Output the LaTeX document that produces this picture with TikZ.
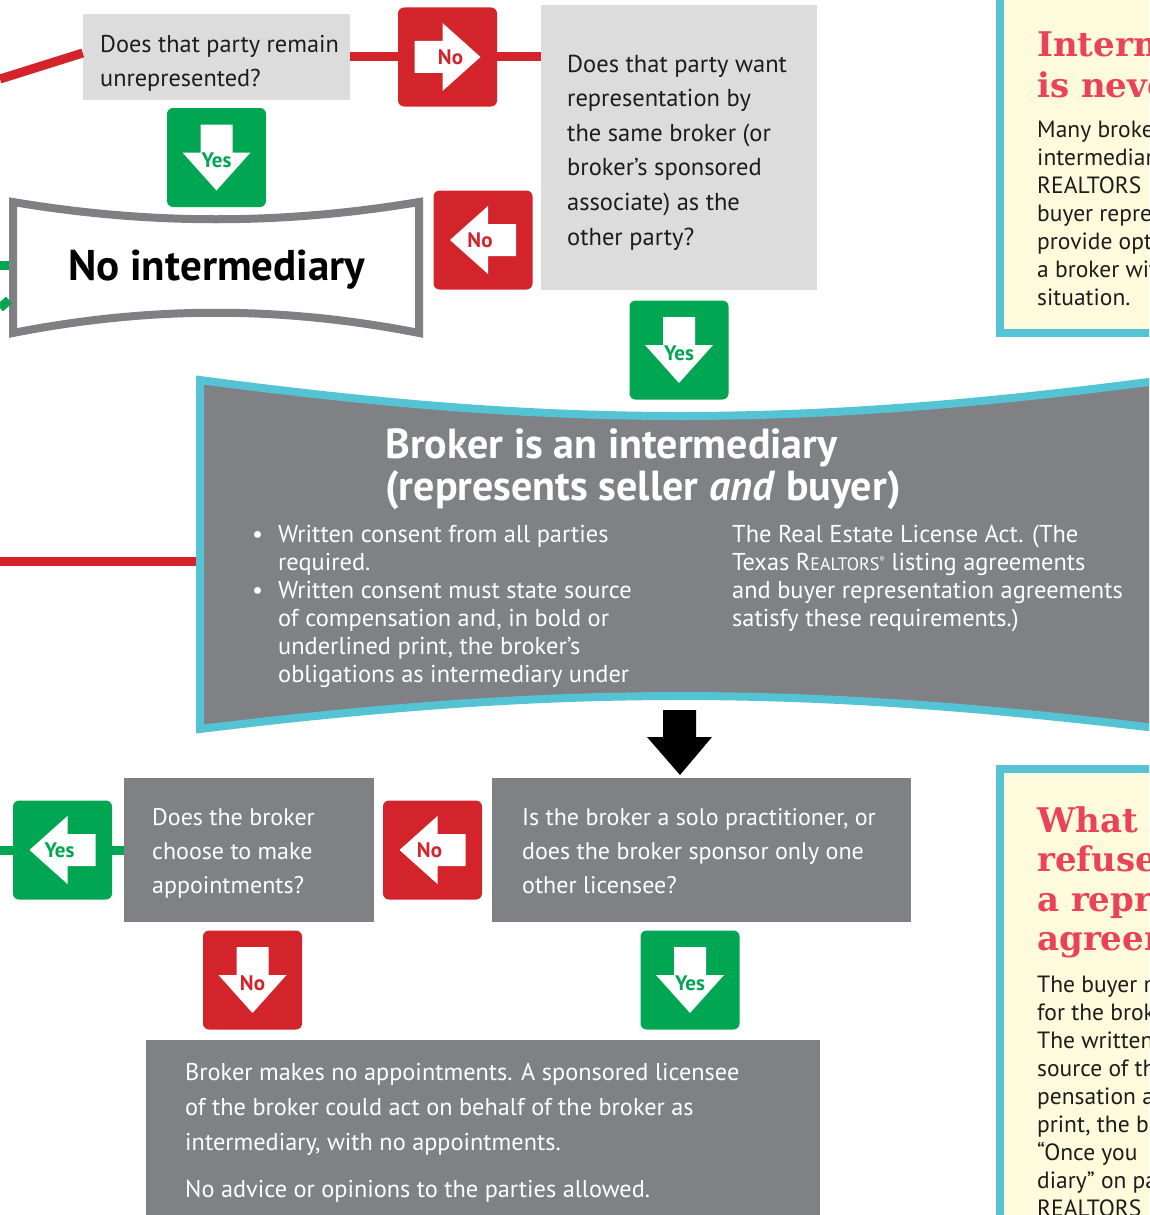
\documentclass[tikz,border=0pt]{standalone}
\usepackage{fontspec}
\setmainfont{PT Sans}
\newfontfamily\slabfont{DejaVu Serif}
\usepackage{tikz}
\usetikzlibrary{positioning}
\definecolor{dfred}{RGB}{211,36,44}
\definecolor{dfgreen}{RGB}{0,166,81}
\definecolor{dflight}{RGB}{220,220,220}
\definecolor{dfgray}{RGB}{128,129,133}
\definecolor{dfcyan}{RGB}{84,196,212}
\definecolor{dfcream}{RGB}{254,251,220}
\definecolor{dfpink}{RGB}{234,66,88}
\definecolor{dfedge}{RGB}{128,128,132}
\definecolor{dfink}{RGB}{28,28,28}
\tikzstyle{lightbox} = [fill=dflight, inner sep=0pt]
\tikzstyle{darkbox} = [fill=dfgray, inner sep=0pt]
\tikzstyle{signbox} = [rounded corners=6pt, minimum width=99pt, minimum height=99pt, inner sep=0pt]
\tikzstyle{signtxt} = [font=\fontsize{21}{21}\selectfont\bfseries, inner sep=0pt]
\tikzstyle{qtext} = [anchor=base west, align=left, inner sep=0pt, text=dfink, font=\fontsize{24}{34}\selectfont]
\tikzstyle{wtext} = [qtext, text=white]
\tikzstyle{redline} = [line width=9pt, dfred]
\tikzstyle{greenline} = [line width=9pt, dfgreen]
\tikzstyle{panel} = [line width=8pt, draw=dfcyan, fill=dfcream]
\tikzstyle{slabhead} = [anchor=base west, align=left, inner sep=0pt, text=dfpink, font=\slabfont\fontsize{34}{40}\selectfont\bfseries]
% yes/no sign: name, centre, colour, angle, label
\newcommand{\signicon}[5]{%
  \node[signbox, fill=#3] (#1) at (#2) {};
  \begin{scope}[shift={(#1.center)}, rotate=#4]
    \fill[white] (-33,-16) -- (-5,-16) -- (-5,-34) -- (33,0) -- (-5,34) -- (-5,16) -- (-33,16) -- cycle;
    \node[signtxt, text=#3] (#1txt) at (3,0) {#5};
  \end{scope}}
\newcommand{\realtors}{R{\fontsize{18}{18}\selectfont EALTORS}\raisebox{8pt}{\fontsize{8}{8}\selectfont\textregistered}}

\begin{document}
\begin{tikzpicture}[x=1pt, y=-1pt]
\clip (0,0) rectangle (1149,1215);

% side panels (texts anchored on their last line)
\draw[panel] (1000,-6) rectangle (1170,333);
\node[slabhead] (p1head) at (1037,97) {Intermediary\\is never};
\node[qtext, font=\fontsize{23.5}{28}\selectfont] (p1txt) at (1037,305) {Many brokers\\intermediary\\REALTORS\\buyer representation\\provide options\\a broker with\\situation.};
\draw[panel] (1000,769) rectangle (1170,1230);
\node[slabhead, font=\slabfont\fontsize{34}{39.5}\selectfont\bfseries] (p2head) at (1037,950.5) {What if\\refuses\\a representation\\agreement?};
\node[qtext, font=\fontsize{23.5}{28}\selectfont] (p2txt) at (1037,1216) {The buyer may\\for the broker\\The written consent\\source of the com-\\pensation and\\print, the broker\\“Once you\\diary” on page\\REALTORS};

% top questions
\node[lightbox, minimum width=267, minimum height=86] (q1) at (216.5,57) {};
\node[qtext, font=\fontsize{24.3}{34}\selectfont] (q1txt) at (100,86) {Does that party remain\\unrepresented?};
\node[lightbox, minimum width=276, minimum height=285] (q2) at (679,147.5) {};
\node[qtext, font=\fontsize{24.5}{34.6}\selectfont] (q2txt) at (567,245) {Does that party want\\representation by\\the same broker (or\\broker’s sponsored\\associate) as the\\other party?};
\signicon{no1}{447.5,57}{dfred}{0}{No}
\signicon{yes1}{216.5,157.5}{dfgreen}{-90}{Yes}
\signicon{no2}{483,240}{dfred}{180}{No}
\signicon{yes2}{679,350}{dfgreen}{-90}{Yes}
\coordinate (rin) at (0,79);
\draw[redline] (rin) -- ([yshift=4pt]q1.west);
\draw[redline] (q1.east) -- (no1.west);
\draw[redline] (no1.east) -- (no1.east -| q2.west);

% no intermediary
\filldraw[draw=dfedge, line width=8pt, fill=white] (13,202) .. controls (150,225) and (282,225) .. (419,202) -- (419,333) .. controls (282,306) and (150,306) .. (13,333) -- cycle;
\node[anchor=base west, inner sep=0pt, font=\fontsize{43}{43}\selectfont\bfseries] (noint) at (68,280) {No intermediary};
\coordinate (gin1) at (0,265);
\coordinate (niw1) at (9,265);
\coordinate (gin2) at (0,308);
\coordinate (niw2) at (9,300);
\draw[greenline] (gin1) -- (niw1);
\draw[greenline] (gin2) -- (niw2);

% intermediary banner
\coordinate (rin2) at (0,561);
\coordinate (bw) at (200,561);
\draw[redline] (rin2) -- (bw);
\filldraw[draw=dfcyan, line width=8pt, fill=dfgray] (200,380) .. controls (560,428) and (800,428) .. (1164,380) -- (1164,729) .. controls (800,685) and (560,685) .. (200,729) -- cycle;
\node[anchor=base west, align=left, inner sep=0pt, text=white, font=\fontsize{42}{42}\selectfont\bfseries] (btitle) at (385,500) {Broker is an intermediary\\(represents seller \textit{and} buyer)};
\node[wtext, font=\fontsize{24.4}{28}\selectfont] (bleft) at (278,682) {\llap{\textbullet\hspace{15pt}}Written consent from all parties\\required.\\\llap{\textbullet\hspace{15pt}}Written consent must state source\\of compensation and, in bold or\\underlined print, the broker’s\\obligations as intermediary under};
\node[wtext, font=\fontsize{24.4}{28}\selectfont] (bright) at (732,626) {The Real Estate License Act. (The\\Texas \realtors\ listing agreements\\and buyer representation agreements\\satisfy these requirements.)};
\fill (663,710) -- (696,710) -- (696,737) -- (712,737) -- (680,775) -- (647,737) -- (663,737) -- cycle;

% lower questions
\node[darkbox, minimum width=419, minimum height=144] (q3) at (701.5,850) {};
\node[wtext] (q3txt) at (522,893) {Is the broker a solo practitioner, or\\does the broker sponsor only one\\other licensee?};
\node[darkbox, minimum width=250, minimum height=144] (q4) at (249,850) {};
\node[wtext] (q4txt) at (152,893) {Does the broker\\choose to make\\appointments?};
\signicon{no3}{432.5,850}{dfred}{180}{No}
\signicon{yes3}{62.5,850}{dfgreen}{180}{Yes}
\signicon{no4}{252.5,980}{dfred}{-90}{No}
\signicon{yes4}{690,980}{dfgreen}{-90}{Yes}
\coordinate (gin3) at (0,850);
\draw[greenline] (gin3) -- (yes3.west);
\draw[greenline] (yes3.east) -- (q4.west);

% result
\node[darkbox, minimum width=674, minimum height=200] (res) at (483,1140) {};
\node[wtext, font=\fontsize{24.3}{35}\selectfont] (restxt) at (185,1197) {Broker makes no appointments. A sponsored licensee\\of the broker could act on behalf of the broker as\\intermediary, with no appointments.\\[12pt]No advice or opinions to the parties allowed.};
\end{tikzpicture}
\end{document}
